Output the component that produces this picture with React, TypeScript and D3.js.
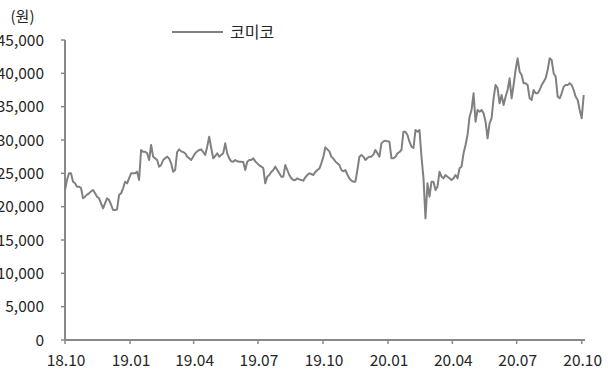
import React from "react";
import * as d3 from "d3";

const seriesName = "코미코";
const unitLabel = "(원)";
const yTicks = [0, 5000, 10000, 15000, 20000, 25000, 30000, 35000, 40000, 45000];
const xTickLabels = ["18.10", "19.01", "19.04", "19.07", "19.10", "20.01", "20.04", "20.07", "20.10"];
const xTickDates = ["2018-10-01", "2019-01-01", "2019-04-01", "2019-07-01", "2019-10-01", "2020-01-01", "2020-04-01", "2020-07-01", "2020-10-01"];
const startDate = "2018-10-01";
const endDate = "2020-10-01";

const prices = [
  22500, 24000, 25000, 25000, 23750, 23500, 23000, 23000, 22800, 21250,
  21500, 21800, 22000, 22300, 22500, 22000, 21500, 21250, 20500, 19750,
  20500, 21250, 21000, 20300, 19500, 19500, 19600, 21750, 22000, 22750,
  23750, 23500, 24250, 25000, 25000, 25000, 25250, 24000, 28500, 28250,
  28250, 28000, 27000, 29250, 27500, 27250, 27000, 26000, 26250, 27000,
  27250, 27500, 27200, 26500, 25250, 25500, 28200, 28600, 28300, 28200,
  28000, 27500, 27250, 27000, 27500, 28000, 28300, 28500, 28600, 28200,
  27750, 29000, 30500, 28800, 27250, 27600, 28000, 27500, 27750, 28000,
  29500, 28000, 27250, 26800, 26750, 27000, 26800, 26750, 26750, 26700,
  25500, 26750, 27000, 27000, 27250, 26800, 26500, 26200, 26000, 25800,
  23500, 24500, 24750, 25200, 25500, 26000, 25500, 25000, 24500, 24500,
  26250, 25500, 24750, 24250, 24000, 24000, 24250, 24100, 24000, 23900,
  24400, 24750, 25000, 24900, 24750, 25200, 25500, 25700, 26500, 27500,
  28900, 28600, 28300, 27500, 27200, 26800, 26500, 26250, 25500, 25300,
  25500, 24800, 24250, 23900, 23750, 23750, 25500, 27500, 27750, 27500,
  27000, 27300, 27500, 27500, 27800, 28500, 28000, 27500, 29500, 29800,
  29900, 29800, 29750, 27250, 27250, 27500, 28000, 28200, 28500, 31250,
  31250, 30750, 29750, 29000, 28800, 31500, 31250, 31500, 27500, 24250,
  18250, 23500, 21500, 23750, 23750, 22500, 23000, 25250, 24500, 24250,
  24750, 24500, 24250, 24000, 24250, 24750, 24250, 25750, 26000, 28000,
  29250, 30750, 33500, 34500, 37000, 32750, 34500, 34250, 34500, 34000,
  32750, 30250, 32500, 33250, 36250, 38250, 37750, 35500, 36750, 35250,
  36500, 37500, 39250, 36250, 38250, 40500, 42250, 40250, 39750, 38500,
  38500, 38250, 36250, 36000, 37500, 37000, 37000, 37500, 38250, 38750,
  39250, 40500, 42250, 42000, 40000, 39500, 36500, 36250, 37000, 38000,
  38250, 38250, 38500, 38250, 37500, 36500, 36000, 34500, 33250, 36750,
];

const W = 608;
const H = 370;
const left = 65;
const right = 581.7;
const top = 40;
const bottom = 340;
const axisColor = "#898989";
const lineColor = "#808080";
const textColor = "#262626";
const font = "'Noto Sans CJK KR', 'Noto Sans', sans-serif";

export default function App() {
  const t0 = new Date(startDate + "T00:00:00");
  const t1 = new Date(endDate + "T00:00:00");
  const x = d3.scaleTime().domain([t0, t1]).range([left, right]);
  const y = d3.scaleLinear().domain([0, 45000]).range([bottom, top]);
  const stepMs = (t1.getTime() - t0.getTime()) / (prices.length - 2);
  const data = prices.map((v, i) => ({ d: new Date(t0.getTime() + i * stepMs), v }));
  const line = d3
    .line<{ d: Date; v: number }>()
    .x((p) => x(p.d))
    .y((p) => y(p.v));
  const fmt = d3.format(",");

  return (
    <svg
      width={W}
      height={H}
      style={{ position: "absolute", left: 0, top: 0, background: "#fff" }}
      fontFamily={font}
    >
      {/* unit */}
      <text x={22.5} y={22} textAnchor="middle" fontSize={15} fill={textColor}>
        {unitLabel}
      </text>
      {/* y axis */}
      <line x1={left} x2={left} y1={y(45000)} y2={bottom} stroke={axisColor} strokeWidth={2} />
      {yTicks.map((t) => (
        <g key={t}>
          <line x1={left - 4} x2={left} y1={y(t)} y2={y(t)} stroke={axisColor} strokeWidth={1.5} />
          <text
            x={44}
            y={y(t)}
            dy="0.36em"
            textAnchor="end"
            fontSize={15.5}
            fill={textColor}
          >
            {fmt(t)}
          </text>
        </g>
      ))}
      {/* x axis */}
      <line x1={left} x2={585} y1={bottom} y2={bottom} stroke={axisColor} strokeWidth={2} />
      {xTickDates.map((ds, i) => {
        const xx = x(new Date(ds + "T00:00:00"));
        return (
          <g key={ds}>
            <line x1={xx} x2={xx} y1={bottom} y2={bottom + 4} stroke={axisColor} strokeWidth={1.5} />
            <text x={xx + 1} y={366} textAnchor="middle" fontSize={15.5} fill={textColor}>
              {xTickLabels[i]}
            </text>
          </g>
        );
      })}
      {/* series */}
      <path d={line(data) || ""} fill="none" stroke={lineColor} strokeWidth={2} strokeLinejoin="round" />
      {/* legend */}
      <line x1={172} x2={223} y1={32} y2={32} stroke={lineColor} strokeWidth={2} />
      <text x={230} y={32} dy="0.36em" fontSize={16} fill={textColor}>
        {seriesName}
      </text>
    </svg>
  );
}
